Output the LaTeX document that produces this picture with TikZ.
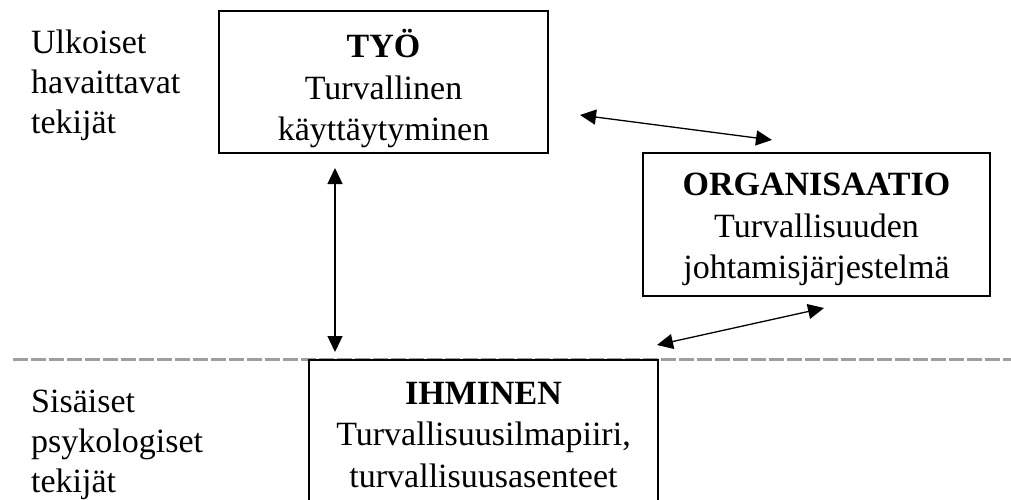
\documentclass[tikz,border=0pt]{standalone}
\usepackage{fontspec}
\setmainfont{Liberation Serif}
\usetikzlibrary{arrows.meta}
\begin{document}
\begin{tikzpicture}[x=1pt,y=-1pt,
  box/.style={draw, line width=1.6pt, inner sep=0pt},
  boxtext/.style={align=center, inner sep=0pt, font=\fontsize{34}{41.5}\selectfont},
  side/.style={align=left, anchor=north west, inner sep=0pt, font=\fontsize{34}{40}\selectfont},
  link/.style={line width=1.3pt, {Triangle[length=16pt,width=15pt]}-{Triangle[length=16pt,width=15pt]}},
  divider/.style={draw=black!38, line width=3pt, dash pattern=on 15pt off 3pt}]
\clip (0,0) rectangle (1011,499);
\fill[white] (0,0) rectangle (1011,499);
% divider
\coordinate (dl) at (13,359);
\coordinate (dr) at (1011,359);
\draw[divider] (dl) -- (dr);
% boxes
\node[box, minimum width=329pt, minimum height=142pt] (tyo) at (383.5,82) {};
\node[boxtext] (tyot) at ([yshift=-7pt]tyo.center) {\textbf{TYÖ}\\Turvallinen\\käyttäytyminen};
\node[box, minimum width=347pt, minimum height=143pt] (org) at (816.5,224.5) {};
\node[boxtext] (orgt) at ([yshift=-5pt]org.center) {\textbf{ORGANISAATIO}\\Turvallisuuden\\johtamisjärjestelmä};
\node[box, minimum width=349pt, minimum height=142pt] (ihm) at (483.5,431) {};
\node[boxtext] (ihmt) at ([yshift=-4pt]ihm.center) {\textbf{IHMINEN}\\Turvallisuusilmapiiri,\\turvallisuusasenteet};
% side labels
\node[side] (ext) at (31,30) {Ulkoiset\\havaittavat\\tekijät};
\node[side] (int) at (31,390) {Sisäiset\\psykologiset\\tekijät};
% arrows
\coordinate (a1) at (335,168);
\coordinate (a2) at (335,352);
\coordinate (b1) at (580,115);
\coordinate (b2) at (772,140);
\coordinate (c1) at (824,308);
\coordinate (c2) at (657,345);
\draw[link] (a1) -- (a2);
\draw[link] (b1) -- (b2);
\draw[link] (c1) -- (c2);
\end{tikzpicture}
\end{document}
